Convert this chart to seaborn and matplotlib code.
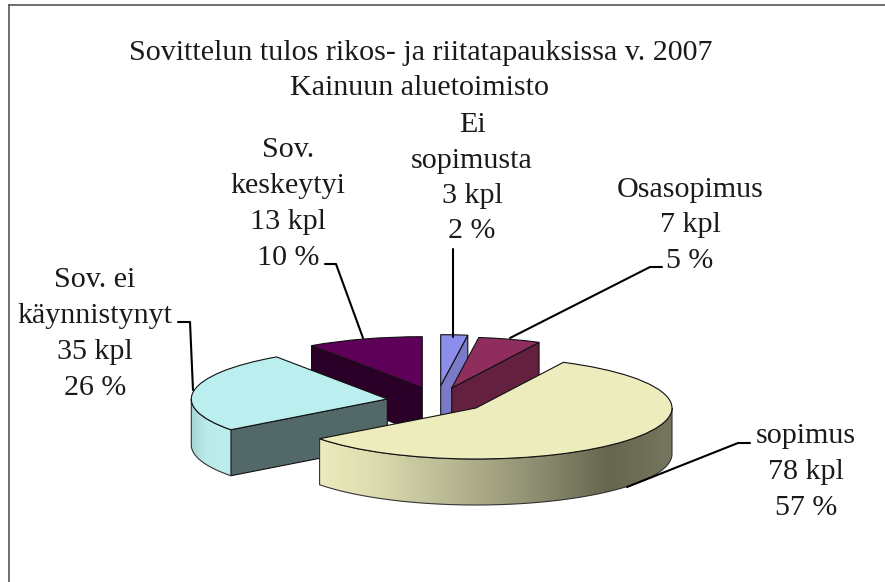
import numpy as np
import seaborn as sns
import matplotlib
matplotlib.use('Agg')
import matplotlib.pyplot as plt
from matplotlib.colors import LinearSegmentedColormap
from matplotlib.patches import Polygon

categories = ['Ei sopimusta', 'Osasopimus', 'sopimus', 'Sov. ei käynnistynyt', 'Sov. keskeytyi']
counts = [3, 7, 78, 35, 13]
percents = [2, 5, 57, 26, 10]
title_lines = ['Sovittelun tulos rikos- ja riitatapauksissa v. 2007', 'Kainuun aluetoimisto']
label_lines = [['Ei', 'sopimusta'], ['Osasopimus'], ['sopimus'], ['Sov. ei', 'käynnistynyt'], ['Sov.', 'keskeytyi']]

top_colors = ['#8d8deb', '#8e2d5e', '#ececbc', '#bbeeee', '#5e0058']
face_colors = ['#7a7ac8', '#64203f', '#ececbc', '#536868', '#2b0028']

# pixel sizes of the tilted pie
RX, RY, DEPTH = 196.0, 51.0, 46.0
# wedge tip in picture pixels, same order as categories
tips = [(440.7, 385.7), (451.7, 388.0), (476.0, 408.0), (387.3, 399.0), (422.3, 387.7)]
# draw back to front
draw_order = [4, 0, 1, 3, 2]


def X(px):
    return px / RX


def Y(py):
    return -py / RY


def arc_points(w, a1, a2, n=80):
    t = np.radians(np.linspace(a1, a2, n))
    return w.center[0] + np.cos(t), w.center[1] + np.sin(t)


sns.set_theme(style='white')
plt.rcParams['font.family'] = ['Liberation Serif', 'DejaVu Serif']

fig = plt.figure(figsize=(8.85, 5.82), dpi=100)
x0, x1, y0 = 9, 885, 5
ax = fig.add_axes([x0 / 885, 0, (x1 - x0) / 885, (582 - y0) / 582])

wedges, _ = ax.pie(counts, startangle=90, counterclock=False, radius=1, colors=top_colors,
                   wedgeprops={'edgecolor': '#111111', 'linewidth': 0.8})
ax.set_aspect('auto')
ax.set_frame_on(True)
depth = DEPTH / RY

for n, i in enumerate(draw_order):
    w = wedges[i]
    w.set_center((X(tips[i][0]), Y(tips[i][1])))
    w.set_zorder(10 + 3 * n)
    z = 8 + 3 * n
    cx, cy = w.center
    # straight cut faces, only those whose normal points down are seen
    for ang, turn in ((w.theta1, -90), (w.theta2, 90)):
        if np.sin(np.radians(ang + turn)) < -1e-6:
            ex, ey = cx + np.cos(np.radians(ang)), cy + np.sin(np.radians(ang))
            face = [(cx, cy), (ex, ey), (ex, ey - depth), (cx, cy - depth)]
            ax.add_patch(Polygon(face, closed=True, facecolor=face_colors[i], edgecolor='#111111',
                                 linewidth=0.8, zorder=z))
    # outer rim, only the lower half of the ellipse shows
    a1, a2 = max(w.theta1, -180), min(w.theta2, 0)
    if a2 > a1:
        xs, ys = arc_points(w, a1, a2)
        rim = np.column_stack([np.r_[xs, xs[::-1]], np.r_[ys, ys[::-1] - depth]])
        ax.add_patch(Polygon(rim, closed=True, facecolor='none', edgecolor='#333333', linewidth=0.8, zorder=z + 1))
        if categories[i] == 'sopimus':
            cm = LinearSegmentedColormap.from_list('rim', [(0, '#ebebbd'), (0.15, '#dcdcb0'), (0.5, '#a3a382'),
                                                           (0.82, '#666650'), (1, '#77775f')])
        else:
            cm = LinearSegmentedColormap.from_list('rim', [(0, '#a5d6d6'), (0.4, '#bbeaea'), (1, '#bbeeee')])
        im = ax.imshow(np.linspace(0, 1, 256)[None, :], extent=(xs.min(), xs.max(), ys.min() - depth, ys.max()),
                       cmap=cm, aspect='auto', zorder=z)
        im.set_clip_path(Polygon(rim, closed=True, transform=ax.transData))

ax.set_xlim(X(x0), X(x1))
ax.set_ylim(Y(582), Y(y0))
ax.set_xticks([])
ax.set_yticks([])
sns.despine(ax=ax, top=False, right=True, left=False, bottom=True)
for s in ax.spines.values():
    s.set_color('#555555')
    s.set_linewidth(1.2)

ink = '#1a1a1a'
ax.text(X(421), Y(60), title_lines[0], ha='center', va='baseline', fontsize=21.6, color=ink)
ax.text(X(420), Y(95), title_lines[1], ha='center', va='baseline', fontsize=21.6, color=ink)

# centre x, first baseline y, line step, same order as categories
label_pos = [(472, 132, 35.5), (690, 197, 35.5), (806, 443, 36), (95, 287, 36), (288, 157, 36)]
for i in range(len(categories)):
    lines = label_lines[i] + [f'{counts[i]} kpl', f'{percents[i]} %']
    lx, ly, step = label_pos[i]
    for k, s in enumerate(lines):
        ax.text(X(lx), Y(ly + k * step), s, ha='center', va='baseline', fontsize=21.6, color=ink)

leaders = [[(453, 249), (453, 337)],
           [(662, 267), (650, 267), (510, 338)],
           [(750, 443), (738, 443), (627, 487)],
           [(178, 322), (190, 322), (193, 390)],
           [(325, 264), (336, 264), (363, 338)]]
for path in leaders:
    p = np.array(path)
    ax.plot(X(p[:, 0]), Y(p[:, 1]), color='black', linewidth=1.5, zorder=40)

fig.savefig('out.png', dpi=100)
